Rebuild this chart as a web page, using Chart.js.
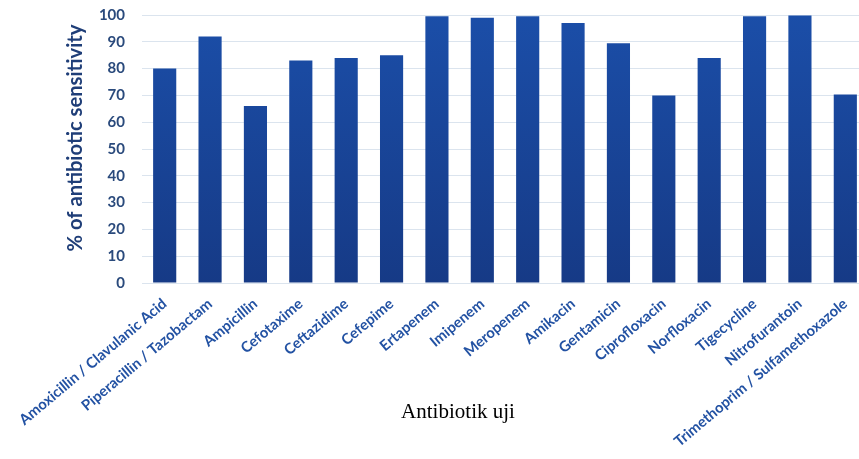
<!DOCTYPE html>
<html>
<head>
<meta charset="utf-8">
<script src="https://cdn.jsdelivr.net/npm/chart.js@4"></script>
<style>
  html, body { margin: 0; padding: 0; background: #fff; overflow: hidden; }
  #wrap { position: relative; width: 868px; height: 459px; }
</style>
</head>
<body>
<div id="wrap"><canvas id="c"></canvas></div>
<script>
const categories = [
  "Amoxicillin / Clavulanic Acid", "Piperacillin / Tazobactam", "Ampicillin",
  "Cefotaxime", "Ceftazidime", "Cefepime", "Ertapenem", "Imipenem",
  "Meropenem", "Amikacin", "Gentamicin", "Ciprofloxacin", "Norfloxacin",
  "Tigecycline", "Nitrofurantoin", "Trimethoprim / Sulfamethoxazole"
];
const sensitivity = [80, 92, 66, 83, 84, 85, 99.5, 99, 99.5, 97, 89.5, 70, 84, 99.5, 99.8, 70.3];
const yTicks = [0, 10, 20, 30, 40, 50, 60, 70, 80, 90, 100];
const yTitle = "% of antibiotic sensitivity";
const xTitle = "Antibiotik uji";

const titlesPlugin = {
  id: 'titlesText',
  afterDraw(chart) {
    const ctx = chart.ctx;
    ctx.save();
    ctx.font = '21px "Liberation Serif", "Times New Roman", serif';
    ctx.fillStyle = '#000';
    ctx.textAlign = 'center';
    ctx.textBaseline = 'middle';
    ctx.fillText(xTitle, 458, 412);
    ctx.translate(75, 138);
    ctx.rotate(-Math.PI / 2);
    ctx.font = 'bold 20.2px Lato, "Open Sans", sans-serif';
    ctx.fillStyle = '#1f3e78';
    ctx.fillText(yTitle, 0, 0);
    ctx.restore();
  }
};

new Chart(document.getElementById('c'), {
  type: 'bar',
  data: {
    labels: categories,
    datasets: [{
      data: sensitivity,
      backgroundColor(context) {
        const area = context.chart.chartArea;
        if (!area) return '#1a47a0';
        const g = context.chart.ctx.createLinearGradient(0, area.top, 0, area.bottom);
        g.addColorStop(0, '#1b4ea8');
        g.addColorStop(1, '#163a86');
        return g;
      },
      borderWidth: 0,
      barPercentage: 0.51,
      categoryPercentage: 1.0
    }]
  },
  options: {
    responsive: true,
    maintainAspectRatio: false,
    animation: false,
    layout: { padding: { top: 15, right: 0, left: 0, bottom: 0 } },
    plugins: { legend: { display: false }, tooltip: { enabled: false } },
    scales: {
      x: {
        grid: { display: false },
        border: { display: false },
        ticks: {
          autoSkip: false,
          maxRotation: 40,
          minRotation: 40,
          padding: 4,
          color: '#2352a3',
          font: { family: 'Lato, "Open Sans", sans-serif', size: 14.8, weight: 'bold' }
        },
        afterFit(scale) { scale.height = 176; }
      },
      y: {
        min: 0,
        max: 100,
        afterBuildTicks(scale) { scale.ticks = yTicks.map(v => ({ value: v })); },
        grid: { color: '#dbe4ee', lineWidth: 1, drawTicks: true, tickLength: 15, tickColor: 'rgba(0,0,0,0)' },
        border: { display: false },
        ticks: {
          padding: 2,
          color: '#2a4a7c',
          font: { family: 'Lato, "Open Sans", sans-serif', size: 15, weight: 'bold' }
        },
        afterFit(scale) { scale.width = 142; }
      }
    }
  },
  plugins: [titlesPlugin]
});
</script>
</body>
</html>
